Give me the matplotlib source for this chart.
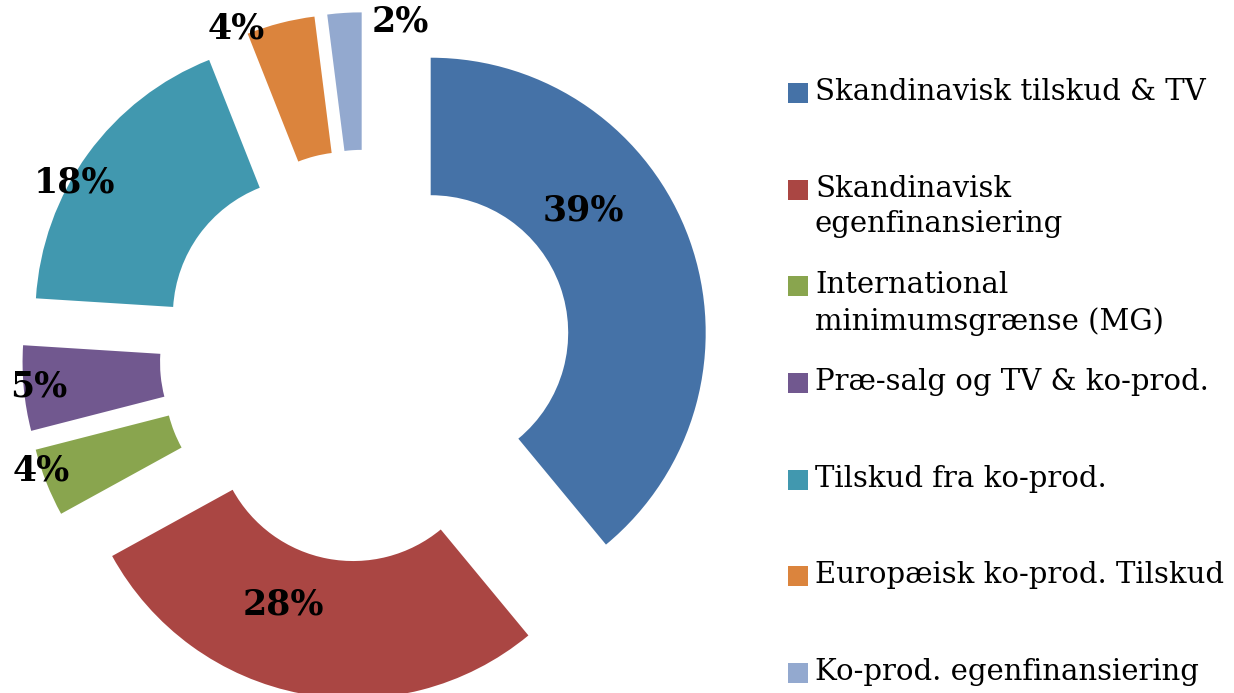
import matplotlib
matplotlib.use("Agg")
import matplotlib.pyplot as plt
import matplotlib.patches as mpatches

# data
categories = [
    "Skandinavisk tilskud & TV",
    "Skandinavisk\negenfinansiering",
    "International\nminimumsgrænse (MG)",
    "Præ-salg og TV & ko-prod.",
    "Tilskud fra ko-prod.",
    "Europæisk ko-prod. Tilskud",
    "Ko-prod. egenfinansiering",
]
shares = [39, 28, 4, 5, 18, 4, 2]
colors = ["#4572A7", "#AA4643", "#89A54E", "#71588F", "#4198AF", "#DB843D", "#93A9CF"]

# label positions (data units, pie radius = 1)
label_pos = [(0.79, 0.53), (-0.30, -0.905), (-1.18, -0.415), (-1.19, -0.11),
             (-1.06, 0.63), (-0.47, 1.19), (0.125, 1.215)]

W, H = 1234, 693
CX, CY, R = 366, 356, 275   # pie centre and radius in pixels

fig = plt.figure(figsize=(W / 100, H / 100), dpi=100)
ax = fig.add_axes([0, 0, 1, 1])

wedges, _ = ax.pie(shares, colors=colors, startangle=90, counterclock=False,
                   explode=[0.25] * len(shares), radius=1,
                   wedgeprops=dict(width=0.5, linewidth=0))

for v, (x, y) in zip(shares, label_pos):
    ax.text(x, y, f"{v}%", ha="center", va="center", fontsize=25,
            fontweight="bold", family="DejaVu Serif", color="black")

ax.set_aspect("auto")
ax.set_xlim(-CX / R, (W - CX) / R)
ax.set_ylim(-(H - CY) / R, CY / R)
ax.axis("off")

# legend drawn by hand (fixed pitch, square next to first line)
for i, (lab, c) in enumerate(zip(categories, colors)):
    yc = 93 + i * 96.67
    fig.patches.append(mpatches.Rectangle((788 / W, 1 - (yc + 10) / H), 20 / W, 20 / H,
                                          transform=fig.transFigure, color=c, linewidth=0))
    fig.text(815 / W, 1 - (yc - 15) / H, lab, ha="left", va="top", fontsize=21,
             family="DejaVu Serif", linespacing=1.35)

fig.savefig("out.png", dpi=100)
